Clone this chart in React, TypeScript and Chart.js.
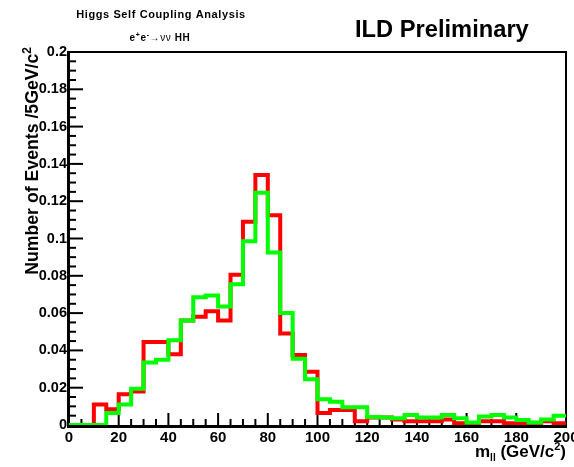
import React, { useEffect, useRef } from "react";
import { Chart, registerables } from "chart.js";

Chart.register(...registerables);

// Bin low edges (GeV/c^2), 5 GeV bins from 0 to 200
const binLowEdges = [
  0, 5, 10, 15, 20, 25, 30, 35, 40, 45, 50, 55, 60, 65, 70, 75, 80, 85, 90, 95,
  100, 105, 110, 115, 120, 125, 130, 135, 140, 145, 150, 155, 160, 165, 170, 175, 180, 185, 190, 195,
];
const binWidth = 5;

const redValues = [
  0, 0, 0.011, 0.0085, 0.0165, 0.018, 0.0445, 0.0445, 0.038, 0.056,
  0.058, 0.061, 0.056, 0.0805, 0.109, 0.134, 0.1125, 0.049, 0.0375, 0.0285,
  0.0065, 0.008, 0.008, 0.002, 0.004, 0.004, 0.003, 0.002, 0.002, 0.002,
  0.003, 0.001, 0.001, 0.002, 0.002, 0.001, 0.001, 0.001, 0.002, 0.001,
];

const greenValues = [
  0, 0, 0, 0.0065, 0.011, 0.0195, 0.0335, 0.035, 0.0455, 0.056,
  0.0685, 0.0695, 0.0635, 0.0755, 0.0985, 0.1245, 0.0925, 0.06, 0.0355, 0.0245,
  0.0138, 0.0125, 0.0095, 0.0095, 0.0043, 0.004, 0.0036, 0.0054, 0.004, 0.004,
  0.0054, 0.0036, 0.0013, 0.0045, 0.0054, 0.004, 0.0027, 0.0013, 0.003, 0.005,
];

const xMin = 0;
const xMax = 200;
const xMajorStep = 20;
const xMinorStep = 5;
const yMin = 0;
const yMax = 0.2;
const yMajorStep = 0.02;
const yMinorStep = 0.005;

const plotTitle = "Higgs Self Coupling Analysis";
const banner = "ILD Preliminary";
const yTitle = "Number of Events /5GeV/c";
const FONT = "'Liberation Sans', Arial, Helvetica, sans-serif";

function toSteps(vals: number[]) {
  // point at each bin's low edge; 'before' stepping draws the bin's level up to the next edge
  const pts = binLowEdges.map((e, i) => ({ x: e, y: vals[i] }));
  pts.push({ x: binLowEdges[binLowEdges.length - 1] + binWidth, y: vals[vals.length - 1] });
  return pts;
}

const framePlugin = {
  id: "rootFrame",
  beforeDatasetsDraw(chart: any) {
    const { ctx, chartArea } = chart;
    const { left, right, top, bottom } = chartArea;
    const xs = chart.scales.x;
    const ys = chart.scales.y;
    ctx.save();
    ctx.strokeStyle = "#000";
    ctx.lineWidth = 2;
    ctx.beginPath();
    ctx.moveTo(left, top);
    ctx.lineTo(right, top);
    ctx.lineTo(right, bottom);
    ctx.stroke();
    ctx.lineWidth = 3;
    ctx.beginPath();
    ctx.moveTo(left - 0.5, top - 1);
    ctx.lineTo(left - 0.5, bottom + 1.5);
    ctx.lineTo(right + 1, bottom + 1.5);
    ctx.stroke();
    ctx.lineWidth = 2;
    const nx = Math.round((xMax - xMin) / xMinorStep);
    for (let i = 0; i <= nx; i++) {
      const v = xMin + i * xMinorStep;
      const px = xs.getPixelForValue(v);
      const len = i % Math.round(xMajorStep / xMinorStep) === 0 ? 12 : 6;
      ctx.beginPath();
      ctx.moveTo(px, bottom);
      ctx.lineTo(px, bottom - len);
      ctx.stroke();
    }
    const ny = Math.round((yMax - yMin) / yMinorStep);
    for (let i = 0; i <= ny; i++) {
      const v = yMin + i * yMinorStep;
      const py = ys.getPixelForValue(v);
      const len = i % Math.round(yMajorStep / yMinorStep) === 0 ? 14 : 7;
      ctx.beginPath();
      ctx.moveTo(left, py);
      ctx.lineTo(left + len, py);
      ctx.stroke();
    }
    ctx.restore();
  },
  afterDraw(chart: any) {
    const { ctx } = chart;
    ctx.save();
    ctx.fillStyle = "#000";
    ctx.textBaseline = "alphabetic";
    // small title
    ctx.font = `bold 11px ${FONT}`;
    (ctx as any).letterSpacing = "0.6px";
    ctx.textAlign = "center";
    ctx.fillText(plotTitle, 161, 17.5);
    (ctx as any).letterSpacing = "0px";
    // process line e+e- -> nu nu HH
    const segs: [string, number, number, boolean][] = [
      ["e", 10, 0, true],
      ["+", 7, -4, true],
      ["e", 10, 0, true],
      ["-", 7, -4, true],
      ["\u2192\u03bd\u03bd", 10, 0, false],
      [" HH", 10, 0, true],
    ];
    (ctx as any).letterSpacing = "0.6px";
    let total = 0;
    for (const [t, s, , b] of segs) {
      ctx.font = `${b ? "bold " : ""}${s}px ${FONT}`;
      total += ctx.measureText(t).width;
    }
    let cx = 160 - total / 2;
    ctx.textAlign = "left";
    for (const [t, s, dy, b] of segs) {
      ctx.font = `${b ? "bold " : ""}${s}px ${FONT}`;
      ctx.fillText(t, cx, 41 + dy);
      cx += ctx.measureText(t).width;
    }
    (ctx as any).letterSpacing = "0px";
    // banner
    ctx.font = `bold 23.7px ${FONT}`;
    ctx.fillText(banner, 355, 37);
    // y title (rotated)
    ctx.save();
    ctx.translate(38, 47);
    ctx.rotate(-Math.PI / 2);
    ctx.font = `bold 12px ${FONT}`;
    const supW = ctx.measureText("2").width;
    ctx.textAlign = "right";
    ctx.fillText("2", 0, -7.5);
    ctx.font = `bold 17.7px ${FONT}`;
    ctx.fillText(yTitle, -supW, 0);
    ctx.restore();
    // x title
    let tx = 475;
    const xb = 457;
    const xsegs: [string, number, number][] = [
      ["m", 17, 0],
      ["ll", 10, 4],
      [" (GeV/c", 17, 0],
      ["2", 11, -7],
      [")", 17, 0],
    ];
    for (const [t, s, dy] of xsegs) {
      ctx.font = `bold ${s}px ${FONT}`;
      ctx.fillText(t, tx, xb + dy);
      tx += ctx.measureText(t).width;
    }
    ctx.restore();
  },
};

export default function App() {
  const canvasRef = useRef<HTMLCanvasElement | null>(null);

  useEffect(() => {
    const canvas = canvasRef.current;
    if (!canvas) return;
    const chart = new Chart(canvas, {
      type: "line",
      data: {
        datasets: [
          {
            label: "green",
            data: toSteps(greenValues),
            borderColor: "#00ff00",
            borderWidth: 4,
            stepped: "before",
            pointRadius: 0,
            fill: false,
            order: 0,
          },
          {
            label: "red",
            data: toSteps(redValues),
            borderColor: "#ff0000",
            borderWidth: 4,
            stepped: "before",
            pointRadius: 0,
            fill: false,
            order: 1,
          },
        ],
      },
      options: {
        animation: false,
        responsive: false,
        devicePixelRatio: 1,
        layout: { padding: { left: 0, top: 52, right: 8, bottom: 0 } },
        plugins: { legend: { display: false }, tooltip: { enabled: false }, title: { display: false } },
        scales: {
          x: {
            type: "linear",
            min: xMin,
            max: xMax,
            grid: { display: false, drawTicks: false },
            border: { display: false },
            ticks: {
              stepSize: xMajorStep,
              autoSkip: false,
              maxRotation: 0,
              padding: 4,
              color: "#000",
              font: { family: FONT, size: 15, weight: "bold" },
              callback: (v: any) => String(v),
            },
            afterFit: (s: any) => {
              s.height = 42;
              s.paddingLeft = 0;
              s.paddingRight = 0;
            },
          },
          y: {
            type: "linear",
            min: yMin,
            max: yMax,
            grid: { display: false, drawTicks: false },
            border: { display: false },
            ticks: {
              stepSize: yMajorStep,
              padding: 2,
              color: "#000",
              font: { family: FONT, size: 14.5, weight: "bold" },
              callback: (v: any) => String(Number(Number(v).toFixed(3))),
            },
            afterFit: (s: any) => {
              s.width = 69;
              s.paddingTop = 0;
              s.paddingBottom = 0;
            },
          },
        },
      },
      plugins: [framePlugin],
    });
    return () => chart.destroy();
  }, []);

  return (
    <div style={{ position: "fixed", left: 0, top: 0, width: 574, height: 467, background: "#fff" }}>
      <canvas ref={canvasRef} width={574} height={467} style={{ display: "block" }} />
    </div>
  );
}
